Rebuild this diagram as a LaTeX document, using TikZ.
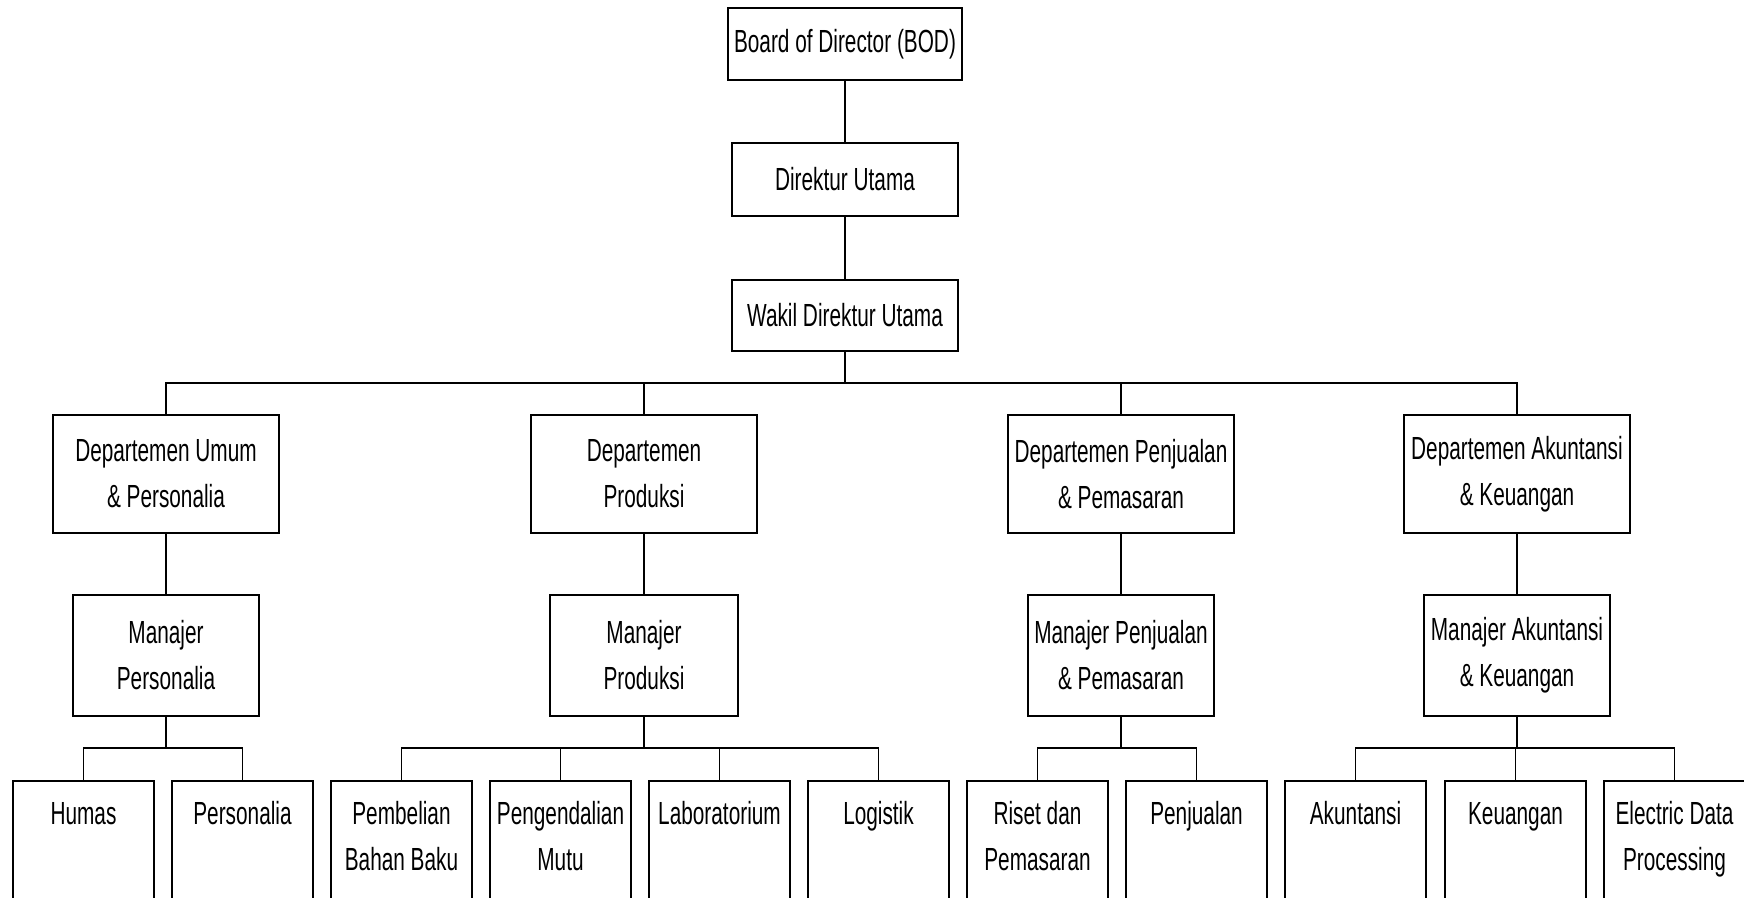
\documentclass[tikz,border=0pt]{standalone}
\usepackage{fontspec}
\setmainfont{Liberation Sans}[FakeStretch=0.65]
\begin{document}
\begin{tikzpicture}[x=1pt,y=-1pt,
  every node/.style={font=\fontsize{32}{46}\selectfont},
  box/.style={draw, line width=1.6pt, inner sep=0pt, align=center},
  topbox/.style={box, minimum width=226pt, minimum height=72pt},
  deptbox/.style={box, minimum width=226pt, minimum height=118pt},
  mgrbox/.style={box, minimum width=186pt, minimum height=121pt},
  leafbox/.style={draw, line width=1.6pt, anchor=north, inner xsep=0pt, inner ysep=0pt},
  conn/.style={line width=1.3pt}
]
\newcommand{\leaftext}[1]{\parbox[t][160pt][t]{141pt}{\vspace*{11.5pt}\centering\strut #1}}
\useasboundingbox (0,0) rectangle (1744,897);
\clip (0,0) rectangle (1744,897);

% top chain
\node[topbox, minimum width=234pt] (bod) at (845,44) {Board of Director (BOD)};
\node[topbox, minimum height=73pt] (dir) at (845,179.5) {Direktur Utama};
\node[topbox, minimum height=71pt] (wak) at (845,315.5) {Wakil Direktur Utama};

% departments
\node[deptbox] (d1) at (166,474) {Departemen Umum\\\& Personalia};
\node[deptbox] (d2) at (644,474) {Departemen\\Produksi};
\node[deptbox] (d3) at (1121,474) {Departemen Penjualan\\\& Pemasaran};
\node[deptbox] (d4) at (1517,474) {Departemen Akuntansi\\\& Keuangan};

% managers
\node[mgrbox] (m1) at (166,655.5) {Manajer\\Personalia};
\node[mgrbox, minimum width=188pt] (m2) at (644,655.5) {Manajer\\Produksi};
\node[mgrbox] (m3) at (1121,655.5) {Manajer Penjualan\\\& Pemasaran};
\node[mgrbox] (m4) at (1517,655.5) {Manajer Akuntansi\\\& Keuangan};

% leaves
\node[leafbox] (l1) at (83.5,780) {\leaftext{Humas}};
\node[leafbox] (l2) at (242.5,780) {\leaftext{Personalia}};
\node[leafbox] (l3) at (401.5,780) {\leaftext{Pembelian\\Bahan Baku}};
\node[leafbox] (l4) at (560.5,780) {\leaftext{Pengendalian\\Mutu}};
\node[leafbox] (l5) at (719.5,780) {\leaftext{Laboratorium}};
\node[leafbox] (l6) at (878.5,780) {\leaftext{Logistik}};
\node[leafbox] (l7) at (1037.5,780) {\leaftext{Riset dan\\Pemasaran}};
\node[leafbox] (l8) at (1196.5,780) {\leaftext{Penjualan}};
\node[leafbox] (l9) at (1355.5,780) {\leaftext{Akuntansi}};
\node[leafbox] (l10) at (1515.5,780) {\leaftext{Keuangan}};
\node[leafbox] (l11) at (1674.5,780) {\leaftext{Electric Data\\Processing}};

% bus coordinates
\coordinate (bus0) at (845,383);
\coordinate (bus1) at (166,748);
\coordinate (bus2) at (644,748);
\coordinate (bus3) at (1121,748);
\coordinate (bus4) at (1517,748);

% connectors
\draw[conn] (bod) -- (dir);
\draw[conn] (dir) -- (wak);
\draw[conn] (wak) -- (bus0);
\draw[conn] (d1.north) |- (bus0) -| (d4.north);
\draw[conn] (d2.north) -- (d2.north |- bus0);
\draw[conn] (d3.north) -- (d3.north |- bus0);

\foreach \i in {1,2,3,4} { \draw[conn] (d\i) -- (m\i); }

\draw[conn] (m1) -- (bus1);
\draw[conn] (l1.north) |- (bus1) -| (l2.north);
\draw[conn] (m2) -- (bus2);
\draw[conn] (l3.north) |- (bus2) -| (l6.north);
\draw[conn] (l4.north) -- (l4.north |- bus2);
\draw[conn] (l5.north) -- (l5.north |- bus2);
\draw[conn] (m3) -- (bus3);
\draw[conn] (l7.north) |- (bus3) -| (l8.north);
\draw[conn] (m4) -- (bus4);
\draw[conn] (l9.north) |- (bus4) -| (l11.north);
\draw[conn] (l10.north) -- (l10.north |- bus4);
\end{tikzpicture}
\end{document}
